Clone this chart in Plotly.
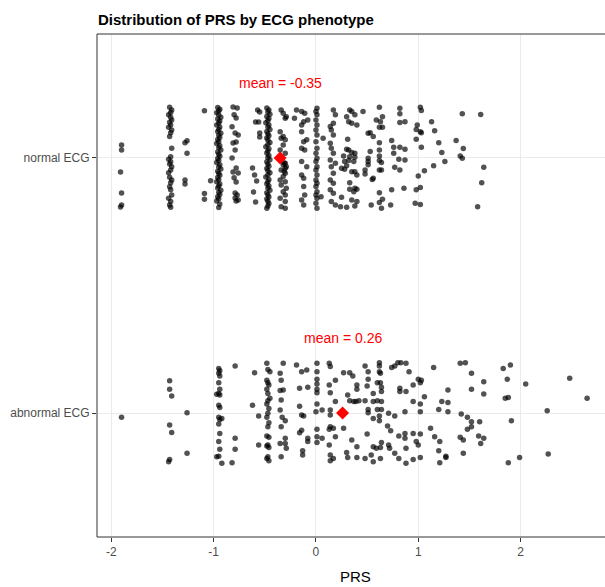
import plotly.graph_objects as go

# ---- data -------------------------------------------------------------
categories = ["abnormal ECG", "normal ECG"]
category_pos = {"abnormal ECG": 1, "normal ECG": 2}

group_means = {"normal ECG": -0.35, "abnormal ECG": 0.26}

x_tick_values = [-2, -1, 0, 1, 2]
x_tick_labels = ["-2", "-1", "0", "1", "2"]

# (PRS, vertical jitter) pairs, normal ECG
normal_low = [
    (-1.90, 0.051), (-1.90, 0.031), (-1.91, -0.055), (-1.90, -0.137), (-1.90, -0.184), (-1.91, -0.192),
    (-1.43, 0.199), (-1.41, 0.188), (-1.42, 0.178), (-1.44, 0.169), (-1.42, 0.160), (-1.41, 0.149),
    (-1.43, 0.140), (-1.42, 0.129), (-1.44, 0.120), (-1.41, 0.110), (-1.42, 0.099), (-1.43, 0.084),
    (-1.41, 0.038), (-1.42, 0.005), (-1.44, -0.005), (-1.42, -0.015), (-1.43, -0.024), (-1.41, -0.034),
    (-1.42, -0.047), (-1.44, -0.058), (-1.43, -0.076), (-1.41, -0.086), (-1.42, -0.097), (-1.43, -0.113),
    (-1.42, -0.125), (-1.41, -0.145), (-1.44, -0.158), (-1.42, -0.171), (-1.43, -0.184), (-1.42, -0.193),
    (-1.28, 0.060), (-1.26, 0.067), (-1.26, 0.018), (-1.28, -0.086), (-1.28, -0.102),
    (-1.09, 0.185), (-1.09, -0.139), (-1.09, -0.162), (-1.03, -0.089),
]

normal_col_096 = [
    (-0.96, 0.198), (-0.94, 0.191), (-0.95, 0.184), (-0.97, 0.177), (-0.95, 0.168), (-0.93, 0.160),
    (-0.96, 0.153), (-0.94, 0.145), (-0.95, 0.137), (-0.97, 0.129), (-0.94, 0.121), (-0.95, 0.112),
    (-0.96, 0.104), (-0.93, 0.097), (-0.95, 0.089), (-0.94, 0.080), (-0.96, 0.072), (-0.95, 0.064),
    (-0.97, 0.057), (-0.94, 0.048), (-0.95, 0.040), (-0.93, 0.031), (-0.96, 0.023), (-0.95, 0.015),
    (-0.94, 0.007), (-0.96, -0.002), (-0.95, -0.010), (-0.97, -0.018), (-0.94, -0.027), (-0.95, -0.035),
    (-0.93, -0.043), (-0.96, -0.052), (-0.95, -0.060), (-0.94, -0.068), (-0.96, -0.077), (-0.95, -0.085),
    (-0.97, -0.093), (-0.94, -0.102), (-0.95, -0.110), (-0.96, -0.118), (-0.93, -0.127), (-0.95, -0.135),
    (-0.94, -0.143), (-0.96, -0.152), (-0.95, -0.160), (-0.97, -0.169), (-0.94, -0.180), (-0.95, -0.194),
]

normal_col_080 = [
    (-0.81, 0.200), (-0.77, 0.196), (-0.80, 0.169), (-0.78, 0.157), (-0.82, 0.122), (-0.79, 0.098),
    (-0.76, 0.090), (-0.78, 0.063), (-0.81, 0.059), (-0.79, 0.031), (-0.82, 0.000), (-0.78, -0.039),
    (-0.81, -0.055), (-0.76, -0.059), (-0.80, -0.078), (-0.78, -0.094), (-0.79, -0.137), (-0.77, -0.145),
    (-0.79, -0.157), (-0.76, -0.165), (-0.78, -0.169),
    (-0.57, 0.188), (-0.55, 0.180), (-0.59, 0.141), (-0.56, 0.141), (-0.55, 0.098), (-0.55, 0.082),
    (-0.62, -0.039), (-0.60, -0.067), (-0.58, -0.090), (-0.61, -0.133), (-0.59, -0.173),
]

normal_col_047 = [
    (-0.48, 0.196), (-0.46, 0.188), (-0.47, 0.180), (-0.45, 0.171), (-0.48, 0.163), (-0.46, 0.155),
    (-0.47, 0.146), (-0.49, 0.138), (-0.46, 0.129), (-0.47, 0.121), (-0.45, 0.112), (-0.48, 0.104),
    (-0.47, 0.095), (-0.46, 0.087), (-0.48, 0.078), (-0.47, 0.070), (-0.45, 0.061), (-0.47, 0.053),
    (-0.49, 0.044), (-0.46, 0.036), (-0.47, 0.027), (-0.48, 0.019), (-0.46, 0.010), (-0.47, 0.002),
    (-0.45, -0.007), (-0.48, -0.015), (-0.47, -0.024), (-0.46, -0.032), (-0.48, -0.041), (-0.47, -0.050),
    (-0.45, -0.058), (-0.47, -0.067), (-0.49, -0.075), (-0.46, -0.084), (-0.47, -0.093), (-0.48, -0.101),
    (-0.46, -0.110), (-0.47, -0.118), (-0.45, -0.127), (-0.48, -0.136), (-0.47, -0.144), (-0.46, -0.153),
    (-0.48, -0.161), (-0.47, -0.170), (-0.46, -0.179), (-0.47, -0.188), (-0.48, -0.197),
]

normal_mid = [
    (-0.34, 0.188), (-0.32, 0.175), (-0.30, 0.156), (-0.35, 0.103), (-0.32, 0.084), (-0.34, 0.077),
    (-0.30, 0.071), (-0.32, 0.051), (-0.35, 0.031), (-0.30, 0.018), (-0.30, -0.021), (-0.32, -0.027),
    (-0.29, -0.034), (-0.34, -0.047), (-0.30, -0.060), (-0.32, -0.073), (-0.35, -0.086), (-0.30, -0.093),
    (-0.34, -0.106), (-0.29, -0.119), (-0.32, -0.132), (-0.30, -0.145), (-0.35, -0.158), (-0.30, -0.171),
    (-0.34, -0.191), (-0.30, -0.197), (-0.31, -0.020), (-0.30, -0.040), (-0.31, -0.052),
    (-0.29, 0.162), (-0.21, 0.156), (-0.19, 0.188), (-0.14, 0.182), (-0.11, 0.175), (-0.12, 0.142),
    (-0.08, 0.149), (-0.14, 0.129), (-0.14, 0.103), (-0.09, 0.071), (-0.12, 0.064), (-0.14, 0.038),
    (-0.11, 0.031), (-0.14, -0.014), (-0.09, -0.034), (-0.14, -0.067), (-0.12, -0.080), (-0.12, -0.112),
    (-0.11, -0.145), (-0.14, -0.165), (-0.12, -0.184),
    (0.01, 0.195), (0.00, 0.182), (0.01, 0.169), (0.00, 0.149), (0.01, 0.129), (0.00, 0.110),
    (0.01, 0.090), (0.00, 0.064), (0.01, 0.038), (0.00, 0.018), (0.01, -0.001), (0.00, -0.014),
    (0.01, -0.034), (0.00, -0.047), (0.01, -0.067), (0.00, -0.086), (0.01, -0.099), (0.00, -0.112),
    (0.01, -0.132), (0.00, -0.145), (0.01, -0.158), (0.00, -0.178), (0.01, -0.197),
    (0.07, 0.077), (0.05, -0.152),
    (0.17, 0.188), (0.19, 0.169), (0.17, 0.136), (0.14, 0.123), (0.15, 0.110), (0.17, 0.090),
    (0.14, 0.058), (0.15, 0.038), (0.17, 0.018), (0.14, -0.008), (0.19, -0.021), (0.15, -0.034),
    (0.17, -0.060), (0.14, -0.086), (0.17, -0.099), (0.14, -0.125), (0.17, -0.138), (0.15, -0.171),
    (0.19, -0.184),
]

normal_high = [
    (0.33, 0.188), (0.35, 0.182), (0.38, 0.169), (0.30, 0.162), (0.32, 0.142), (0.35, 0.136),
    (0.40, 0.129), (0.46, 0.182), (0.62, 0.199), (0.65, 0.162), (0.59, 0.149), (0.63, 0.142),
    (0.62, 0.120), (0.65, 0.120), (0.51, 0.097), (0.53, 0.099), (0.56, 0.084), (0.82, 0.195),
    (0.82, 0.173), (0.82, 0.139), (0.87, 0.142), (1.02, 0.199), (1.03, 0.186), (0.99, 0.129),
    (0.98, 0.112), (1.02, 0.103), (1.03, 0.099), (1.13, 0.142), (1.16, 0.107), (1.43, 0.173),
    (1.61, 0.170), (0.31, 0.073), (0.30, 0.034), (0.32, 0.031), (0.35, 0.021), (0.38, 0.018),
    (0.27, 0.008), (0.33, 0.005), (0.38, 0.003), (0.28, -0.014), (0.32, -0.010), (0.37, -0.014),
    (0.25, -0.040), (0.28, -0.044), (0.30, -0.031), (0.35, -0.054), (0.38, -0.054), (0.40, -0.067),
    (0.48, -0.047), (0.48, -0.063), (0.51, -0.001), (0.51, -0.014), (0.53, 0.025), (0.51, -0.027),
    (0.62, 0.060), (0.62, 0.031), (0.62, 0.008), (0.62, -0.010), (0.64, -0.018), (0.62, -0.047),
    (0.64, -0.047), (0.56, -0.080), (0.55, -0.084), (0.74, 0.068), (0.76, 0.042), (0.76, 0.018),
    (0.82, 0.042), (0.81, -0.005), (0.87, 0.034), (0.87, -0.008), (0.77, -0.036), (0.82, -0.047),
    (0.98, 0.073), (1.03, 0.042), (1.06, -0.050), (1.00, -0.071), (1.15, -0.031), (1.20, 0.060),
    (1.23, 0.021), (1.26, -0.014), (1.37, 0.068), (1.44, 0.037), (1.41, 0.008), (1.43, -0.001),
    (1.64, -0.036), (1.62, -0.097), (1.58, -0.191), (0.33, -0.097), (0.33, -0.123), (0.37, -0.132),
    (0.38, -0.119), (0.40, -0.123), (0.25, -0.154), (0.35, -0.165), (0.40, -0.171), (0.38, -0.188),
    (0.30, -0.193), (0.24, -0.191), (0.54, -0.184), (0.62, -0.136), (0.65, -0.162), (0.62, -0.175),
    (0.64, -0.197), (0.73, -0.184), (0.74, -0.125), (0.86, -0.119), (0.98, -0.125), (1.02, -0.116),
    (0.97, -0.178), (1.02, -0.182),
]

# (PRS, vertical jitter) pairs, abnormal ECG
abnormal_low = [
    (-1.90, -0.017),
    (-1.43, 0.127), (-1.43, 0.093), (-1.41, 0.067), (-1.43, -0.047), (-1.41, -0.076), (-1.43, -0.182),
    (-1.44, -0.191), (-1.26, 0.001), (-1.26, -0.158),
    (-0.95, 0.175), (-0.94, 0.166), (-0.95, 0.156), (-0.94, 0.145), (-0.95, 0.119), (-0.94, 0.093),
    (-0.95, 0.077), (-0.94, 0.071), (-0.95, 0.031), (-0.94, 0.022), (-0.95, -0.017), (-0.94, -0.025),
    (-0.95, -0.043), (-0.94, -0.080), (-0.95, -0.112), (-0.94, -0.142), (-0.95, -0.169),
    (-0.97, 0.074), (-0.97, -0.171), (-0.92, -0.021),
    (-0.79, 0.184), (-0.79, -0.099), (-0.79, -0.142), (-0.82, -0.195), (-0.92, -0.197),
    (-0.60, 0.158), (-0.62, 0.031), (-0.56, -0.012), (-0.56, -0.125),
    (-0.48, 0.195), (-0.47, 0.171), (-0.45, 0.162), (-0.48, 0.129), (-0.47, 0.119), (-0.46, 0.110),
    (-0.48, 0.093), (-0.47, 0.077), (-0.45, 0.058), (-0.47, 0.048), (-0.48, 0.035), (-0.46, 0.018),
    (-0.47, -0.001), (-0.48, -0.017), (-0.46, -0.038), (-0.47, -0.054), (-0.48, -0.090), (-0.46, -0.095),
    (-0.47, -0.125), (-0.48, -0.129), (-0.46, -0.135), (-0.47, -0.171), (-0.48, -0.178), (-0.46, -0.187),
]

abnormal_mid = [
    (-0.32, 0.195), (-0.35, 0.156), (-0.34, 0.129), (-0.35, 0.088), (-0.32, 0.090), (-0.34, 0.051),
    (-0.35, 0.012), (-0.33, -0.017), (-0.30, -0.030), (-0.34, -0.054), (-0.35, -0.119), (-0.30, -0.099),
    (-0.30, -0.119), (-0.34, -0.171), (-0.29, -0.138),
    (-0.19, 0.188), (-0.14, 0.162), (-0.09, 0.169), (-0.16, 0.097), (-0.08, 0.101), (-0.16, 0.027),
    (-0.14, -0.008), (-0.12, -0.012), (-0.14, -0.067), (-0.16, -0.077), (-0.08, -0.099), (-0.08, -0.112),
    (-0.13, -0.148), (-0.13, -0.165),
    (0.01, 0.195), (0.01, 0.162), (0.01, 0.132), (0.01, 0.114), (0.01, 0.093), (0.01, 0.080),
    (0.01, 0.035), (0.00, 0.005), (0.06, 0.012), (0.01, -0.064), (0.01, -0.093), (0.01, -0.116),
    (0.06, -0.099),
    (0.13, 0.195), (0.14, 0.182), (0.19, 0.129), (0.13, 0.110), (0.14, 0.080), (0.19, 0.045),
    (0.14, 0.012), (0.14, -0.008), (0.14, -0.054), (0.17, -0.060), (0.13, -0.064), (0.19, -0.093),
    (0.13, -0.125), (0.14, -0.165), (0.17, -0.178), (0.14, -0.187),
]

abnormal_high = [
    (0.27, 0.158), (0.33, 0.158), (0.36, 0.145), (0.48, 0.184), (0.51, 0.162), (0.62, 0.197),
    (0.62, 0.184), (0.62, 0.162), (0.63, 0.156), (0.74, 0.179), (0.77, 0.184), (0.80, 0.197),
    (0.83, 0.197), (0.88, 0.195), (0.91, 0.162), (0.51, 0.132), (0.50, 0.106), (0.40, 0.110),
    (0.40, 0.093), (0.60, 0.119), (0.63, 0.119), (0.64, 0.101), (0.64, 0.084), (1.00, 0.132),
    (1.03, 0.129), (1.02, 0.119), (0.95, 0.110), (0.31, 0.071), (0.33, 0.048), (0.37, 0.045),
    (0.39, 0.045), (0.42, 0.048), (0.48, 0.048), (0.56, 0.077), (0.56, 0.045), (0.60, 0.048),
    (0.64, 0.045), (0.82, 0.097), (0.82, 0.084), (0.88, 0.084), (0.95, 0.045), (1.02, 0.035),
    (1.06, 0.064), (1.15, 0.179), (1.41, 0.195), (1.46, 0.197), (1.52, 0.156), (1.64, 0.123),
    (1.52, 0.093), (1.64, 0.075), (1.29, 0.090), (1.23, 0.045), (1.29, 0.041), (1.83, 0.175),
    (1.90, 0.188), (1.87, 0.132), (2.05, 0.114), (1.85, 0.058), (1.88, 0.061), (2.48, 0.136),
    (2.65, 0.058), (0.51, 0.014), (0.51, 0.001), (0.60, 0.014), (0.64, 0.014), (0.56, -0.021),
    (0.62, -0.012), (0.62, -0.030), (0.71, -0.001), (0.77, -0.012), (0.87, 0.005), (1.02, 0.005),
    (1.20, 0.014), (1.29, 0.005), (1.42, -0.004), (1.48, -0.017), (1.52, -0.034), (1.60, -0.034),
    (1.48, -0.064), (1.52, -0.054), (1.12, -0.060), (1.16, -0.093), (1.21, -0.112), (0.27, -0.060),
    (0.35, -0.106), (0.40, -0.132), (0.50, -0.082), (0.56, -0.132), (0.59, -0.138), (0.63, -0.135),
    (0.64, -0.116), (0.70, -0.051), (0.73, -0.069), (0.71, -0.125), (0.72, -0.138), (0.81, -0.090),
    (0.87, -0.080), (0.87, -0.099), (0.88, -0.138), (1.00, -0.125), (0.98, -0.112), (0.95, -0.080),
    (1.02, -0.082), (1.41, -0.095), (1.44, -0.106), (1.59, -0.090), (1.64, -0.099), (1.61, -0.119),
    (1.91, -0.030), (2.26, 0.009), (2.27, -0.161), (1.99, -0.174), (1.88, -0.195), (0.30, -0.155),
    (0.31, -0.174), (0.40, -0.174), (0.48, -0.178), (0.54, -0.165), (0.56, -0.191), (0.63, -0.178),
    (0.77, -0.158), (0.81, -0.178), (0.88, -0.197), (0.95, -0.182), (1.02, -0.174), (1.20, -0.148),
    (1.27, -0.169), (1.27, -0.174), (1.21, -0.195), (1.44, -0.158),
]

groups = {
    "normal ECG": normal_low + normal_col_096 + normal_col_080 + normal_col_047 + normal_mid + normal_high,
    "abnormal ECG": abnormal_low + abnormal_mid + abnormal_high,
}

# ---- figure -----------------------------------------------------------
FONT = "Liberation Sans, Arial, sans-serif"
fig = go.Figure()

for name, pts in groups.items():
    base = category_pos[name]
    fig.add_trace(go.Scatter(
        x=[p[0] for p in pts],
        y=[base + p[1] for p in pts],
        mode="markers",
        marker=dict(size=5.5, color="rgba(0,0,0,0.68)", line=dict(width=0)),
        hoverinfo="x",
        showlegend=False,
    ))

for name, mean in group_means.items():
    base = category_pos[name]
    fig.add_trace(go.Scatter(
        x=[mean], y=[base], mode="markers",
        marker=dict(symbol="diamond", size=10, color="#ff0000", line=dict(width=0)),
        showlegend=False, hoverinfo="x",
    ))
    fig.add_annotation(
        x=mean, y=base + 0.294, xref="x", yref="y",
        text=f"mean = {mean:.2f}", showarrow=False,
        font=dict(family=FONT, size=14, color="#ff0000"),
        xanchor="center", yanchor="middle",
    )

# panel border (right side runs past the page edge)
fig.add_shape(type="rect", xref="paper", yref="paper", x0=0, x1=1.03, y0=0, y1=1,
              line=dict(color="#333333", width=1), fillcolor="rgba(0,0,0,0)", layer="above")

fig.add_annotation(
    x=0.508, y=-0.0795, xref="paper", yref="paper", text="PRS", showarrow=False,
    font=dict(family=FONT, size=15, color="#000000"), xanchor="center", yanchor="middle",
)

fig.update_layout(
    width=605, height=587,
    margin=dict(l=97, r=0, t=34, b=50),
    paper_bgcolor="white", plot_bgcolor="white",
    title=dict(
        text="<b>Distribution of PRS by ECG phenotype</b>",
        xref="container", yref="container", x=98 / 605, xanchor="left",
        y=1 - 20 / 587, yanchor="middle",
        font=dict(family=FONT, size=15, color="#000000"),
    ),
    font=dict(family=FONT),
    xaxis=dict(
        range=[-2.14, 2.825], tickvals=x_tick_values, ticktext=x_tick_labels,
        showgrid=True, gridcolor="#ebebeb", gridwidth=1, zeroline=False, showline=False,
        ticks="outside", ticklen=4, tickcolor="#333333", tickwidth=1,
        tickfont=dict(family=FONT, size=12, color="#4d4d4d"),
    ),
    yaxis=dict(
        range=[0.514, 2.486], tickvals=[category_pos[c] for c in categories], ticktext=categories,
        showgrid=True, gridcolor="#ebebeb", gridwidth=1, zeroline=False, showline=False,
        ticks="outside", ticklen=4, tickcolor="#333333", tickwidth=1,
        tickfont=dict(family=FONT, size=12, color="#4d4d4d"),
    ),
)

fig.write_html("out.html")
